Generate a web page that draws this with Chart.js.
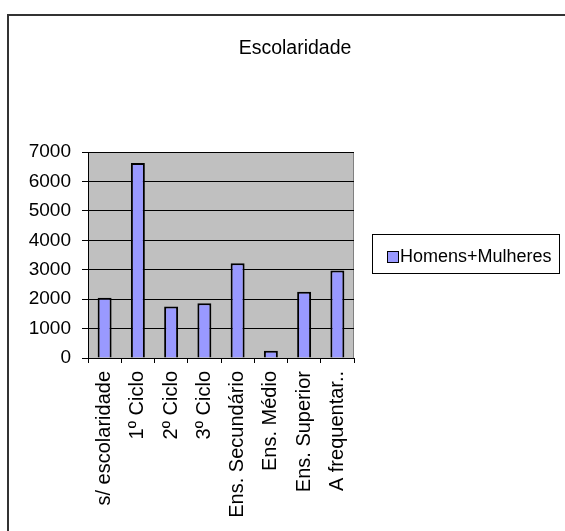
<!DOCTYPE html>
<html>
<head>
<meta charset="utf-8">
<script src="https://cdn.jsdelivr.net/npm/chart.js@4"></script>
<style>
html,body{margin:0;padding:0;background:#fff;}
canvas{display:block;}
</style>
</head>
<body>
<canvas id="c" width="565" height="531"></canvas>
<script>
const chartTitle = "Escolaridade";
const seriesName = "Homens+Mulheres";
const categories = ["s/ escolaridade", "1º Ciclo", "2º Ciclo", "3º Ciclo", "Ens. Secundário", "Ens. Médio", "Ens. Superior", "A frequentar.."];
const values = [2050, 6630, 1750, 1860, 3220, 250, 2250, 2970];
const yTicks = [0, 1000, 2000, 3000, 4000, 5000, 6000, 7000];

const FONT = '"Liberation Sans", Arial, sans-serif';

const decor = {
  id: 'decor',
  beforeDraw(chart) {
    const ctx = chart.ctx, a = chart.chartArea;
    ctx.save();
    ctx.fillStyle = '#fff';
    ctx.fillRect(0, 0, chart.width, chart.height);
    ctx.strokeStyle = '#333';
    ctx.lineWidth = 2;
    ctx.strokeRect(8, 15, chart.width + 20, chart.height + 20);
    ctx.fillStyle = '#C0C0C0';
    ctx.fillRect(a.left, a.top, a.right - a.left, a.bottom - a.top);
    ctx.strokeStyle = '#808080';
    ctx.lineWidth = 1;
    ctx.strokeRect(a.left + 0.5, a.top + 0.5, a.right - a.left - 1, a.bottom - a.top);
    ctx.restore();
  },
  afterDraw(chart) {
    const ctx = chart.ctx;
    ctx.save();
    ctx.fillStyle = '#000';
    ctx.font = '19.5px ' + FONT;
    ctx.textAlign = 'center';
    ctx.textBaseline = 'middle';
    ctx.fillText(chartTitle, 295, 49);
    // legend
    ctx.strokeStyle = '#000';
    ctx.lineWidth = 1;
    ctx.fillStyle = '#fff';
    ctx.fillRect(372, 234, 187, 39);
    ctx.strokeRect(372.5, 234.5, 187, 39);
    const ds = chart.data.datasets[0];
    ctx.fillStyle = ds.backgroundColor;
    ctx.fillRect(387, 251, 11, 11);
    ctx.strokeStyle = '#000';
    ctx.strokeRect(387.5, 251.5, 11, 11);
    ctx.fillStyle = '#000';
    ctx.font = '18px ' + FONT;
    ctx.textAlign = 'left';
    ctx.textBaseline = 'middle';
    ctx.fillText(ds.label, 400, 257);
    ctx.restore();
  }
};

new Chart(document.getElementById('c'), {
  type: 'bar',
  data: {
    labels: categories,
    datasets: [{
      label: seriesName,
      data: values,
      backgroundColor: '#9999FF',
      borderColor: '#000',
      borderWidth: 2,
      categoryPercentage: 1,
      barPercentage: 0.42
    }]
  },
  options: {
    responsive: false,
    animation: false,
    layout: { padding: { top: 152, right: 211, bottom: 0, left: 0 } },
    plugins: { legend: { display: false }, title: { display: false }, tooltip: { enabled: false } },
    scales: {
      x: {
        afterFit(scale) { scale.height = 173; },
        grid: { display: true, drawOnChartArea: false, drawTicks: true, tickLength: 5, color: '#000', offset: true },
        border: { display: true, color: '#000', width: 1 },
        ticks: { color: '#000', font: { family: FONT, size: 20 }, minRotation: 90, maxRotation: 90, autoSkip: false, padding: 8 }
      },
      y: {
        min: 0,
        max: 7000,
        afterFit(scale) { scale.width = 88; },
        afterBuildTicks(scale) { scale.ticks = yTicks.map(v => ({ value: v })); },
        grid: { color: '#000', lineWidth: 1, tickLength: 6 },
        border: { display: true, color: '#000', width: 1 },
        ticks: { color: '#000', font: { family: FONT, size: 19 }, padding: 11, callback: v => String(v) }
      }
    }
  },
  plugins: [decor]
});
</script>
</body>
</html>
